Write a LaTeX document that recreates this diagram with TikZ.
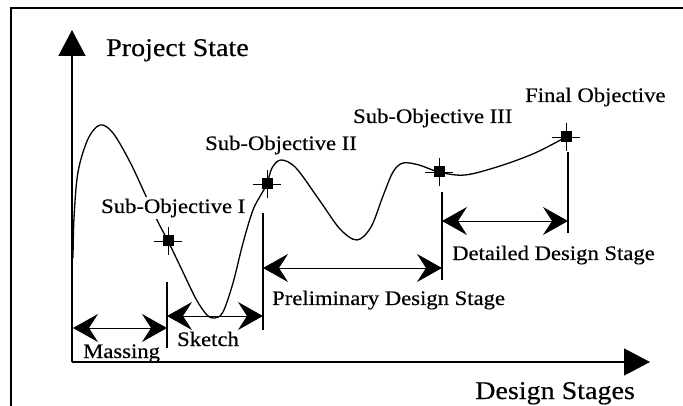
\documentclass[tikz,border=0pt]{standalone}
\usepackage{fontspec}
\setmainfont[FakeStretch=1.1,FakeBold=0.45]{Liberation Serif}
\usetikzlibrary{arrows.meta}
\begin{document}
\begin{tikzpicture}[x=1pt,y=-1pt,
  lbl/.style={inner sep=0pt, anchor=base west, font=\fontsize{20.6}{24}\selectfont},
  axlbl/.style={inner sep=0pt, anchor=base west, font=\fontsize{25.5}{30}\selectfont},
  objmark/.style={rectangle, fill=black, draw=none, minimum size=11pt, inner sep=0pt},
  cross/.style={line width=0.6pt},
  spanarrow/.style={line width=0.9pt, {Stealth[length=25pt,width=28pt,inset=9pt,line width=1.3pt]}-{Stealth[length=25pt,width=28pt,inset=9pt,line width=1.3pt]}},
  stagetick/.style={line width=1.3pt},
  axisline/.style={line width=1.4pt, -{Triangle[length=26pt,width=27pt]}},
  curveline/.style={line width=1.3pt}
]
\useasboundingbox (0,0) rectangle (683,406);
% frame
\coordinate (fbl) at (11,406);
\coordinate (ftl) at (11,8);
\coordinate (ftr) at (683,8);
\draw[line width=1.4pt] (fbl) -- (ftl) -- (ftr);

% axes
\coordinate (O) at (72,362);
\coordinate (ytop) at (72,30);
\coordinate (xend) at (650,362);
\draw[axisline] (O) -- (ytop);
\draw[axisline] (O) -- (xend);

% curve
\draw[curveline] plot[smooth, tension=0.55] coordinates {
 (73,258) (74,218) (78,172) (88,139) (100,125) (113,133) (130,162) (145,194)
 (158,222) (168,241) (182,270) (196,299) (207,315) (215,318) (223,312)
 (233,283) (243,243) (253,210) (262,193) (267,184) (272,168) (281,160)
 (296,168) (320,201) (340,229) (357,240) (371,227) (383,196) (393,172)
 (403,163) (419,165) (439,172) (465,175) (500,166) (535,153) (566,137)};

% objective markers
\node[objmark] (s1) at (168,241) {};
\node[objmark] (s2) at (267,184) {};
\node[objmark] (s3) at (439,172) {};
\node[objmark] (fo) at (566,137) {};
\foreach \m in {s1,s2,s3,fo}{
  \draw[cross] ([xshift=-14pt]\m.center) -- ([xshift=14pt]\m.center);
  \draw[cross] ([yshift=-14pt]\m.center) -- ([yshift=14pt]\m.center);
}

% stage ticks
\coordinate (t1a) at (167,282); \coordinate (t1b) at (167,348);
\coordinate (t2a) at (263,213); \coordinate (t2b) at (263,330);
\coordinate (t3a) at (442,192); \coordinate (t3b) at (442,280);
\coordinate (t4a) at (568,152); \coordinate (t4b) at (568,233);
\draw[stagetick] (t1a) -- (t1b);
\draw[stagetick] (t2a) -- (t2b);
\draw[stagetick] (t3a) -- (t3b);
\draw[stagetick] (t4a) -- (t4b);

% stage spans
\coordinate (m0) at (73,328);  \coordinate (m1) at (167,328);
\coordinate (k0) at (167,316); \coordinate (k1) at (263,316);
\coordinate (p0) at (263,268); \coordinate (p1) at (442,268);
\coordinate (d0) at (442,221); \coordinate (d1) at (568,221);
\draw[spanarrow] (m0) -- (m1);
\draw[spanarrow] (k0) -- (k1);
\draw[spanarrow] (p0) -- (p1);
\draw[spanarrow] (d0) -- (d1);

% labels
\node[axlbl] (ps) at (106,56) {Project State};
\node[axlbl] (ds) at (475,399) {Design Stages};
\node[lbl, fill=white, inner xsep=1pt, inner ysep=2pt] (l1) at (100,213) {Sub-Objective I};
\node[lbl] (l2) at (205,150) {Sub-Objective II};
\node[lbl] (l3) at (353,123) {Sub-Objective III};
\node[lbl] (l4) at (525,102) {Final Objective};
\node[lbl] (lm) at (83,358) {Massing};
\node[lbl] (lk) at (177,346) {Sketch};
\node[lbl] (lp) at (272,305) {Preliminary Design Stage};
\node[lbl] (ld) at (452,260) {Detailed Design Stage};
\end{tikzpicture}
\end{document}
